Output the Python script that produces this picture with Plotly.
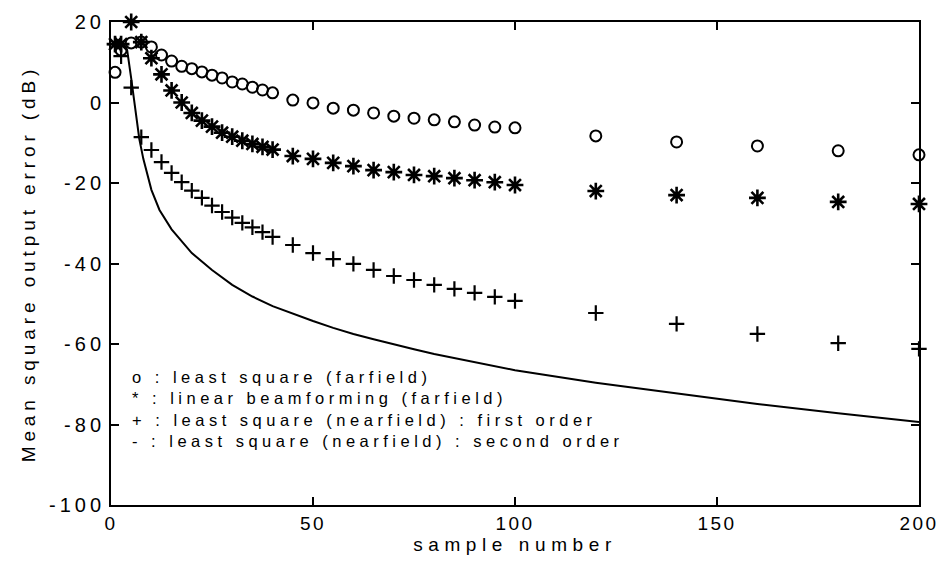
import plotly.graph_objects as go

# ---- data ----
x_dense = [1, 2.5, 5, 7.5, 10, 12.5, 15, 17.5, 20, 22.5, 25, 27.5, 30, 32.5, 35, 37.5, 40]
x_mid = [45, 50, 55, 60, 65, 70, 75, 80, 85, 90, 95, 100]
x_far = [120, 140, 160, 180, 200]
x_all = x_dense + x_mid + x_far

ls_far = ([7.5, 13, 14.8, 15, 13.8, 11.8, 10.3, 9, 8.4, 7.6, 6.8, 6.1, 5.1, 4.6, 3.8, 3.1, 2.4]
          + [0.6, -0.1, -1.4, -1.9, -2.6, -3.4, -3.9, -4.3, -4.8, -5.6, -6.1, -6.3]
          + [-8.3, -9.8, -10.8, -12.0, -13.0])

lin_bf = ([14.5, 14.5, 20, 15, 11, 7, 3, 0, -2.6, -4.5, -6, -7.5, -8.5, -9.5, -10.3, -11, -11.7]
          + [-13.3, -14.0, -15.0, -15.8, -16.8, -17.3, -18.0, -18.3, -18.8, -19.3, -19.8, -20.5]
          + [-22.0, -23.0, -23.7, -24.7, -25.2])

ls_near1 = ([14.5, 11.5, 3.7, -8.6, -11.8, -14.8, -17.5, -19.8, -21.9, -23.7, -25.6, -27.2, -28.6, -29.9, -31.0, -32.2, -33.4]
            + [-35.4, -37.4, -38.9, -40.1, -41.6, -43.1, -44.1, -45.3, -46.3, -47.3, -48.3, -49.3]
            + [-52.3, -55.0, -57.5, -59.8, -61.2])

x_line = [1, 2, 3, 4, 5, 6, 7, 8, 10, 12, 15, 20, 25, 30, 35, 40, 45, 50, 55, 60, 65, 70, 75,
          80, 85, 90, 95, 100, 120, 140, 160, 180, 200]
ls_near2 = [14, 14.5, 14.5, 13, 6, -2, -9, -14, -21.7, -26.7, -31.5, -37.4, -41.6, -45.3, -48.2, -50.6,
            -52.5, -54.3, -56.0, -57.5, -58.8, -60.1, -61.3, -62.5, -63.5, -64.6, -65.6, -66.5,
            -69.6, -72.3, -74.9, -77.2, -79.4]

legend_lines = [
    "o : least square (farfield)",
    "* : linear beamforming (farfield)",
    "+ : least square (nearfield) : first order",
    "- : least square (nearfield) : second order",
]

x_ticks = [0, 50, 100, 150, 200]
y_ticks = [-100, -80, -60, -40, -20, 0, 20]

FONT = "Liberation Sans, Arial, sans-serif"
fig = go.Figure()

fig.add_trace(go.Scatter(x=x_line, y=ls_near2, mode="lines",
                         line=dict(color="black", width=2), cliponaxis=False))
fig.add_trace(go.Scatter(x=x_all, y=ls_far, mode="markers", cliponaxis=False,
                         marker=dict(symbol="circle-open", size=11, color="black",
                                     line=dict(width=2, color="black"))))
fig.add_trace(go.Scatter(x=x_all, y=lin_bf, mode="markers", cliponaxis=False,
                         marker=dict(symbol="asterisk-open", size=14, color="black",
                                     line=dict(width=2.6, color="black"))))
fig.add_trace(go.Scatter(x=x_all, y=ls_near1, mode="markers", cliponaxis=False,
                         marker=dict(symbol="cross-thin-open", size=11, color="black",
                                     line=dict(width=2.2, color="black"))))

fig.add_annotation(text="<br>".join(legend_lines), xref="paper", yref="paper",
                   x=0.024, y=0.199, xanchor="left", yanchor="middle", align="left",
                   showarrow=False, font=dict(family=FONT, size=16.5, color="black"))

axis_common = dict(showline=True, linecolor="black", linewidth=2, mirror="ticks",
                   ticks="inside", ticklen=8, tickwidth=1.5, tickcolor="black",
                   showgrid=False, zeroline=False, automargin=False)

fig.update_layout(
    width=938, height=564,
    margin=dict(l=111, r=19, t=22, b=59),
    paper_bgcolor="white", plot_bgcolor="white",
    showlegend=False,
    xaxis=dict(range=[0, 200], tickvals=x_ticks, ticktext=[str(v) for v in x_ticks],
               tickfont=dict(family=FONT, size=19, color="black"),
               title=dict(text="sample number", font=dict(family=FONT, size=19, color="black"),
                          standoff=4),
               **axis_common),
    yaxis=dict(range=[-100, 20], tickvals=y_ticks, ticktext=[str(v) for v in y_ticks],
               tickfont=dict(family=FONT, size=20, color="black"),
               title=dict(text="Mean square output error (dB)",
                          font=dict(family=FONT, size=19, color="black"), standoff=24),
               **axis_common),
)

# wide letter spacing of the original typesetting
css = (".xtick text {letter-spacing: 2.5px;}"
       " .ytick text {letter-spacing: 4px;}"
       " .xtitle {letter-spacing: 5.6px;}"
       " .ytitle {letter-spacing: 4.9px;}"
       " .annotation-text {letter-spacing: 4.5px;}")
post = ("var s=document.createElement('style');s.textContent='" + css + "';"
        "document.head.appendChild(s);")

fig.write_html("out.html", post_script=post)
